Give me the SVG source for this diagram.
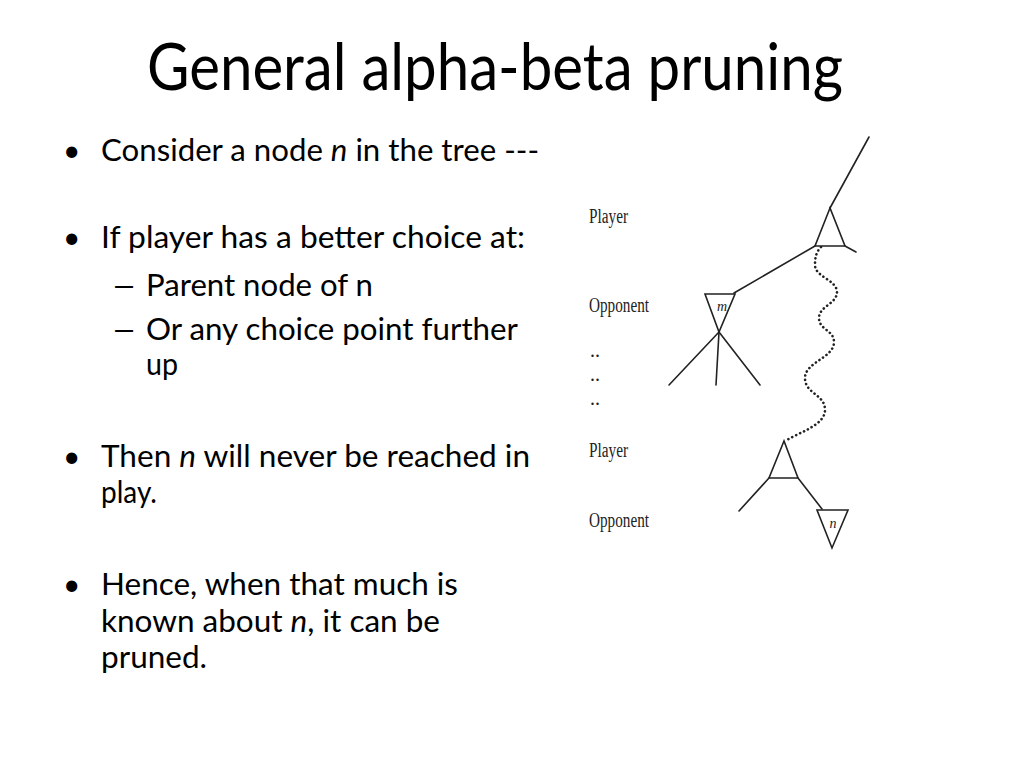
<svg xmlns="http://www.w3.org/2000/svg" width="1024" height="768" viewBox="0 0 1024 768">
<style>
.title{font-family:Lato,"Open Sans","Liberation Sans",sans-serif;font-size:65px;fill:#000}
.body{font-family:Lato,"Open Sans","Liberation Sans",sans-serif;font-size:30px;fill:#000}
.it{font-style:italic}
.lbl{font-family:"Liberation Serif","Times New Roman",serif;font-size:20px;fill:#222}
.nl{font-family:"Liberation Serif","Times New Roman",serif;font-size:14px;font-style:italic;fill:#222;text-anchor:middle}
.edge{stroke:#222;stroke-width:1.6;fill:none;stroke-linecap:round}
.node{stroke:#222;stroke-width:1.6;fill:#fff;stroke-linejoin:miter}
.wavy{stroke:#222;stroke-width:2.6;fill:none;stroke-linecap:round;stroke-dasharray:0.1 4.2}
</style>
<rect width="1024" height="768" fill="#fff"/>
<text class="title" x="147" y="90" textLength="696" lengthAdjust="spacingAndGlyphs">General alpha-beta pruning</text>
<g id="bullets">
<text class="body" x="63" y="161">•</text>
<text class="body" x="101" y="161" textLength="438" lengthAdjust="spacingAndGlyphs">Consider a node <tspan class="it">n</tspan> in the tree ---</text>
<text class="body" x="63" y="248">•</text>
<text class="body" x="101" y="248" textLength="424" lengthAdjust="spacingAndGlyphs">If player has a better choice at:</text>
<text class="body" transform="translate(111,296) scale(1.5,1)">–</text>
<text class="body" x="146" y="296" textLength="227" lengthAdjust="spacingAndGlyphs">Parent node of n</text>
<text class="body" transform="translate(111,340) scale(1.5,1)">–</text>
<text class="body" x="146" y="340" textLength="372" lengthAdjust="spacingAndGlyphs">Or any choice point further</text>
<text class="body" x="146" y="375" textLength="32" lengthAdjust="spacingAndGlyphs">up</text>
<text class="body" x="63" y="467">•</text>
<text class="body" x="101" y="467" textLength="429" lengthAdjust="spacingAndGlyphs">Then <tspan class="it">n</tspan> will never be reached in</text>
<text class="body" x="101" y="503" textLength="56" lengthAdjust="spacingAndGlyphs">play.</text>
<text class="body" x="63" y="595">•</text>
<text class="body" x="101" y="595" textLength="357" lengthAdjust="spacingAndGlyphs">Hence, when that much is</text>
<text class="body" x="101" y="632" textLength="339" lengthAdjust="spacingAndGlyphs">known about <tspan class="it">n</tspan>, it can be</text>
<text class="body" x="101" y="668" textLength="106" lengthAdjust="spacingAndGlyphs">pruned.</text>
</g>
<g id="levels">
<text class="lbl" x="589" y="223" textLength="39" lengthAdjust="spacingAndGlyphs">Player</text>
<text class="lbl" x="589" y="312" textLength="60" lengthAdjust="spacingAndGlyphs">Opponent</text>
<text class="lbl" x="590" y="357">..</text>
<text class="lbl" x="590" y="381">..</text>
<text class="lbl" x="590" y="405">..</text>
<text class="lbl" x="589" y="457" textLength="39" lengthAdjust="spacingAndGlyphs">Player</text>
<text class="lbl" x="589" y="527" textLength="60" lengthAdjust="spacingAndGlyphs">Opponent</text>
</g>
<g id="connectors">
<line class="edge" x1="869" y1="137" x2="830" y2="208"/>
<line class="edge" x1="845" y1="246" x2="856" y2="252"/>
<line class="edge" x1="815" y1="246" x2="734" y2="293"/>
<line class="edge" x1="719" y1="332" x2="669" y2="385"/>
<line class="edge" x1="719" y1="332" x2="716" y2="385"/>
<line class="edge" x1="719" y1="332" x2="760" y2="385"/>
<path class="wavy" d="M821,247 C816,252 815,258 815,265 C815,277 837,280 837,292 C837,304 819,306 819,318 C819,330 834,330 834,342 C834,358 805,362 805,378 C805,394 825,394 825,410 C825,425 800,432 785,441"/>
<line class="edge" x1="769" y1="478" x2="739" y2="511"/>
<line class="edge" x1="798" y1="478" x2="822" y2="509"/>
</g>
<g id="node-top-player">
<polygon class="node" points="830,208 815,246 845,246"/>
</g>
<g id="node-m">
<polygon class="node" points="705,294 735,294 719,332"/>
<text class="nl" x="722" y="311">m</text>
</g>
<g id="node-lower-player">
<polygon class="node" points="784,441 769,478 798,478"/>
</g>
<g id="node-n">
<polygon class="node" points="817,510 848,510 832,548"/>
<text class="nl" x="833" y="528">n</text>
</g>
</svg>
